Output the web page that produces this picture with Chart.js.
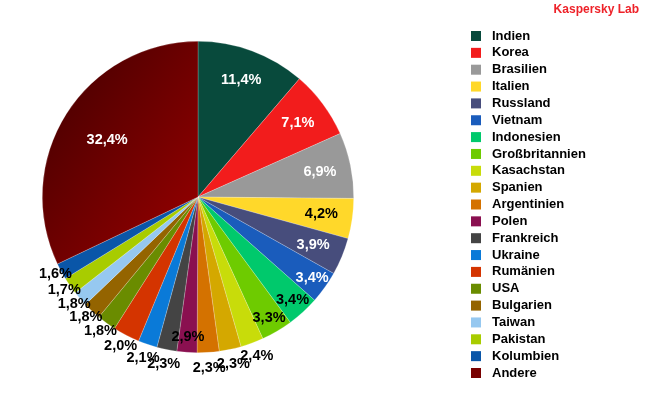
<!DOCTYPE html>
<html>
<head>
<meta charset="utf-8">
<script src="https://cdn.jsdelivr.net/npm/chart.js@4.4.0/dist/chart.umd.min.js"></script>
<style>
    body { margin: 0; background: #ffffff; }
    #wrap { position: relative; width: 650px; height: 400px; }
</style>
</head>
<body>
<div id="wrap"><canvas id="myChart" width="650" height="400"></canvas></div>
<script>
var countries = ['Indien', 'Korea', 'Brasilien', 'Italien', 'Russland', 'Vietnam', 'Indonesien',
    'Großbritannien', 'Kasachstan', 'Spanien', 'Argentinien', 'Polen', 'Frankreich', 'Ukraine',
    'Rumänien', 'USA', 'Bulgarien', 'Taiwan', 'Pakistan', 'Kolumbien', 'Andere']
// slice sizes as drawn in the picture (some printed labels do not match the slice)
var shares = [11.4, 7.1, 6.9, 4.2, 3.9, 3.4, 3.4, 3.3, 2.4, 2.3, 2.3, 2.1, 2.1, 2.0, 2.8, 2.0, 1.9, 1.6, 1.8, 1.7, 32.4]
// percentages as printed on the slices
var shareLabels = ['11,4%', '7,1%', '6,9%', '4,2%', '3,9%', '3,4%', '3,4%', '3,3%', '2,4%', '2,3%', '2,3%',
    '2,9%', '2,3%', '2,1%', '2,0%', '1,8%', '1,8%', '1,8%', '1,7%', '1,6%', '32,4%']

var colors = ['#084a3c', '#f21c1c', '#999999', '#ffd82a', '#474d7c', '#1a5cbc', '#00c96c',
    '#6ecb00', '#c8dc0a', '#d4a800', '#d47200', '#8a1050', '#444444', '#0a7ad8',
    '#d43400', '#6a8c00', '#946400', '#96c8f0', '#a8cc00', '#0a56a8', '#780000']
var textColors = ['#fff', '#fff', '#fff', '#000', '#fff', '#fff', '#000', '#000', '#000', '#000', '#000',
    '#000', '#000', '#000', '#000', '#000', '#000', '#000', '#000', '#000', '#fff']

function sliceColor(c) {
    let i = c.dataIndex
    if (i != countries.length - 1) return colors[i]
    // Andere: dark at outer left, brighter toward centre
    let ctx = c.chart.ctx
    let g = ctx.createLinearGradient(45, 90, 200, 200)
    g.addColorStop(0, '#4a0000')
    g.addColorStop(1, '#8e0000')
    return g
}

var labelPlugin = {
    id: 'sliceLabels',
    afterDatasetsDraw: function (chart) {
        let ctx = chart.ctx
        let meta = chart.getDatasetMeta(0)
        ctx.save()
        ctx.font = 'bold 14.5px "Liberation Sans", Arial, sans-serif'
        ctx.textAlign = 'center'
        ctx.textBaseline = 'middle'
        for (var i = 0; i < meta.data.length; i++) {
            let arc = meta.data[i].getProps(['x', 'y', 'startAngle', 'endAngle', 'outerRadius'], true)
            let mid = (arc.startAngle + arc.endAngle) / 2
            let txt = shareLabels[i]
            let v = parseFloat(txt.replace(',', '.'))
            let r
            if (v > 30) r = arc.outerRadius * 0.69
            else if (v >= 3.9) r = arc.outerRadius * 0.8
            else if (v >= 2.5) r = arc.outerRadius * 0.9
            else r = arc.outerRadius + 6 + 10 * Math.pow(Math.sin(mid), 4)
            ctx.fillStyle = textColors[i]
            ctx.fillText(txt, arc.x + Math.cos(mid) * r, arc.y + Math.sin(mid) * r)
        }
        ctx.restore()
    }
}

var legendPlugin = {
    id: 'sideLegend',
    afterDraw: function (chart) {
        let ctx = chart.ctx
        ctx.save()
        ctx.font = 'bold 12px "Liberation Sans", Arial, sans-serif'
        ctx.textAlign = 'right'
        ctx.textBaseline = 'middle'
        ctx.fillStyle = '#ee2229'
        ctx.fillText('Kaspersky Lab', 639, 10)

        ctx.font = 'bold 13px "Liberation Sans", Arial, sans-serif'
        ctx.textAlign = 'left'
        for (var i = 0; i < chart.data.labels.length; i++) {
            let y = 36 + i * 16.85
            ctx.fillStyle = colors[i]
            ctx.fillRect(471, y - 5, 10, 10)
            ctx.fillStyle = '#000'
            ctx.fillText(chart.data.labels[i], 492, y)
        }
        ctx.restore()
    }
}

var ctx = document.getElementById('myChart').getContext('2d')
var myPie = new Chart(ctx, {
    type: 'pie',
    data: {
        labels: countries,
        datasets: [{
            data: shares,
            backgroundColor: sliceColor,
            borderWidth: 0.6,
            borderColor: 'rgba(255,255,255,0.35)'
        }]
    },
    options: {
        responsive: false,
        animation: false,
        layout: { padding: { left: 42, top: 41, right: 296, bottom: 47 } },
        plugins: {
            legend: { display: false },
            tooltip: { enabled: false }
        }
    },
    plugins: [labelPlugin, legendPlugin]
})
</script>
</body>
</html>
